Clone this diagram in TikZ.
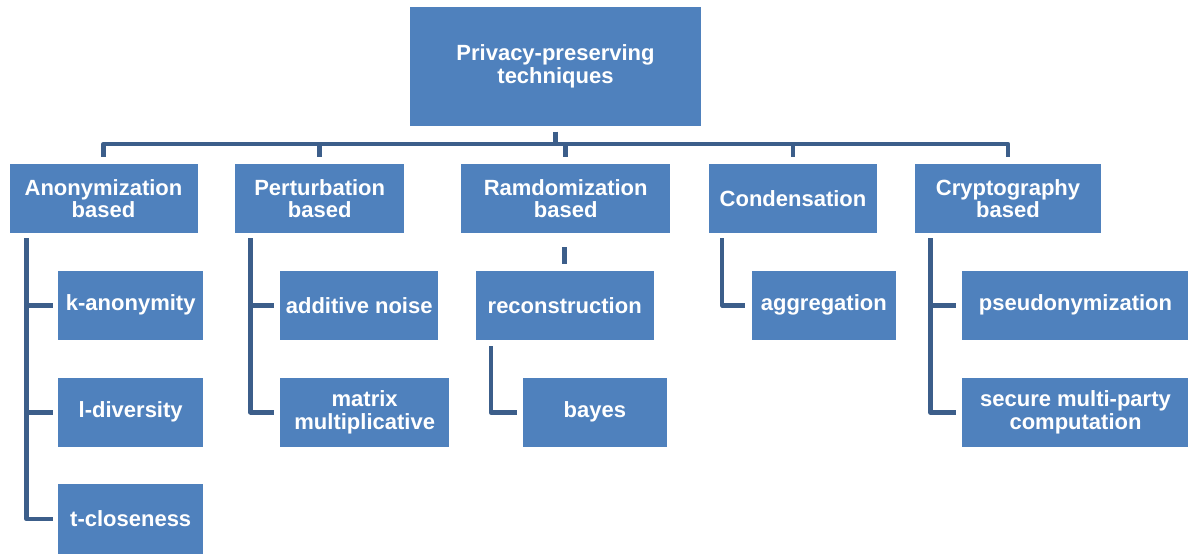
\documentclass[tikz,border=0pt]{standalone}
\usepackage{fontspec}
\setmainfont{Liberation Sans}
\usetikzlibrary{calc}
\definecolor{boxblue}{RGB}{79,129,189}
\definecolor{linkblue}{RGB}{60,94,138}
\tikzset{
  box/.style={fill=boxblue, text=white, align=center, inner sep=0pt,
    font=\bfseries\fontsize{22}{22.5}\selectfont, minimum height=69.3pt},
  link/.style={draw=linkblue, line width=4.5pt, line join=round}
}
\begin{document}
\begin{tikzpicture}[x=1pt,y=-1pt]
\useasboundingbox (0,0) rectangle (1188,554);

% root
\node[box, minimum width=291pt, minimum height=119pt] (root) at (555.5,66.5) {Privacy-preserving\\techniques};

% first level
\node[box, minimum width=188pt]   (anon) at (103.5,198.5) {Anonymization\\based};
\node[box, minimum width=168.6pt] (pert) at (319.7,198.5) {Perturbation\\based};
\node[box, minimum width=209.5pt] (ramd) at (565.7,198.5) {Ramdomization\\based};
\node[box, minimum width=168pt]   (cond) at (793,198.5)   {Condensation};
\node[box, minimum width=185.7pt] (cryp) at (1008,198.5)  {Cryptography\\based};

% second level
\node[box, minimum width=144.5pt] (kanon)  at (130.7,305.3)  {k-anonymity};
\node[box, minimum width=157.5pt] (addn)   at (359.2,305.3)  {additive noise};
\node[box, minimum width=178pt]   (recon)  at (564.7,305.3)  {reconstruction};
\node[box, minimum width=144.3pt] (aggr)   at (823.8,305.3)  {aggregation};
\node[box, minimum width=227pt]   (pseudo) at (1075.5,305.3) {pseudonymization};

\node[box, minimum width=144.5pt] (ldiv)   at (130.7,412.3)  {l-diversity};
\node[box, minimum width=168.5pt] (matmul) at (364.7,412.3)  {matrix\\multiplicative};
\node[box, minimum width=144.2pt] (bayes)  at (594.9,412.3)  {bayes};
\node[box, minimum width=227pt]   (smpc)   at (1075.5,412.3) {secure multi-party\\computation};

\node[box, minimum width=144.5pt] (tclose) at (130.7,519)    {t-closeness};

% bus from the root to the first level
\coordinate (bus) at (0,144);
\draw[link, shorten <=5.5pt] (root.south) -- (root.south |- bus);
\draw[link, shorten <=7pt, shorten >=7pt]
  (anon.north) -- (anon.north |- bus) -- (cryp.north |- bus) -- (cryp.north);
\foreach \n in {pert,ramd,cond}
  \draw[link, shorten >=7pt] (\n.north |- bus) -- (\n.north);

% Anonymization branch
\coordinate (aS) at ($(anon.south west)+(17.4,0)$);
\draw[link, shorten <=5pt, shorten >=5.5pt] (aS) -- (aS |- tclose.west) -- (tclose.west);
\draw[link, shorten >=5.5pt] (aS |- kanon.west) -- (kanon.west);
\draw[link, shorten >=5.5pt] (aS |- ldiv.west) -- (ldiv.west);

% Perturbation branch
\coordinate (pS) at ($(pert.south west)+(15.3,0)$);
\draw[link, shorten <=5pt, shorten >=6pt] (pS) -- (pS |- matmul.west) -- (matmul.west);
\draw[link, shorten >=6pt] (pS |- addn.west) -- (addn.west);

% Ramdomization branch
\draw[link, shorten <=14pt, shorten >=6pt] (recon.north |- ramd.south) -- (recon.north);
\coordinate (rS) at ($(recon.south west)+(15.3,0)$);
\draw[link, shorten <=6pt, shorten >=6pt] (rS) -- (rS |- bayes.west) -- (bayes.west);

% Condensation branch
\coordinate (cS) at ($(cond.south west)+(13.3,0)$);
\draw[link, shorten <=5pt, shorten >=6pt] (cS) -- (cS |- aggr.west) -- (aggr.west);

% Cryptography branch
\coordinate (yS) at ($(cryp.south west)+(15.3,0)$);
\draw[link, shorten <=5pt, shorten >=6pt] (yS) -- (yS |- smpc.west) -- (smpc.west);
\draw[link, shorten >=6pt] (yS |- pseudo.west) -- (pseudo.west);
\end{tikzpicture}
\end{document}
